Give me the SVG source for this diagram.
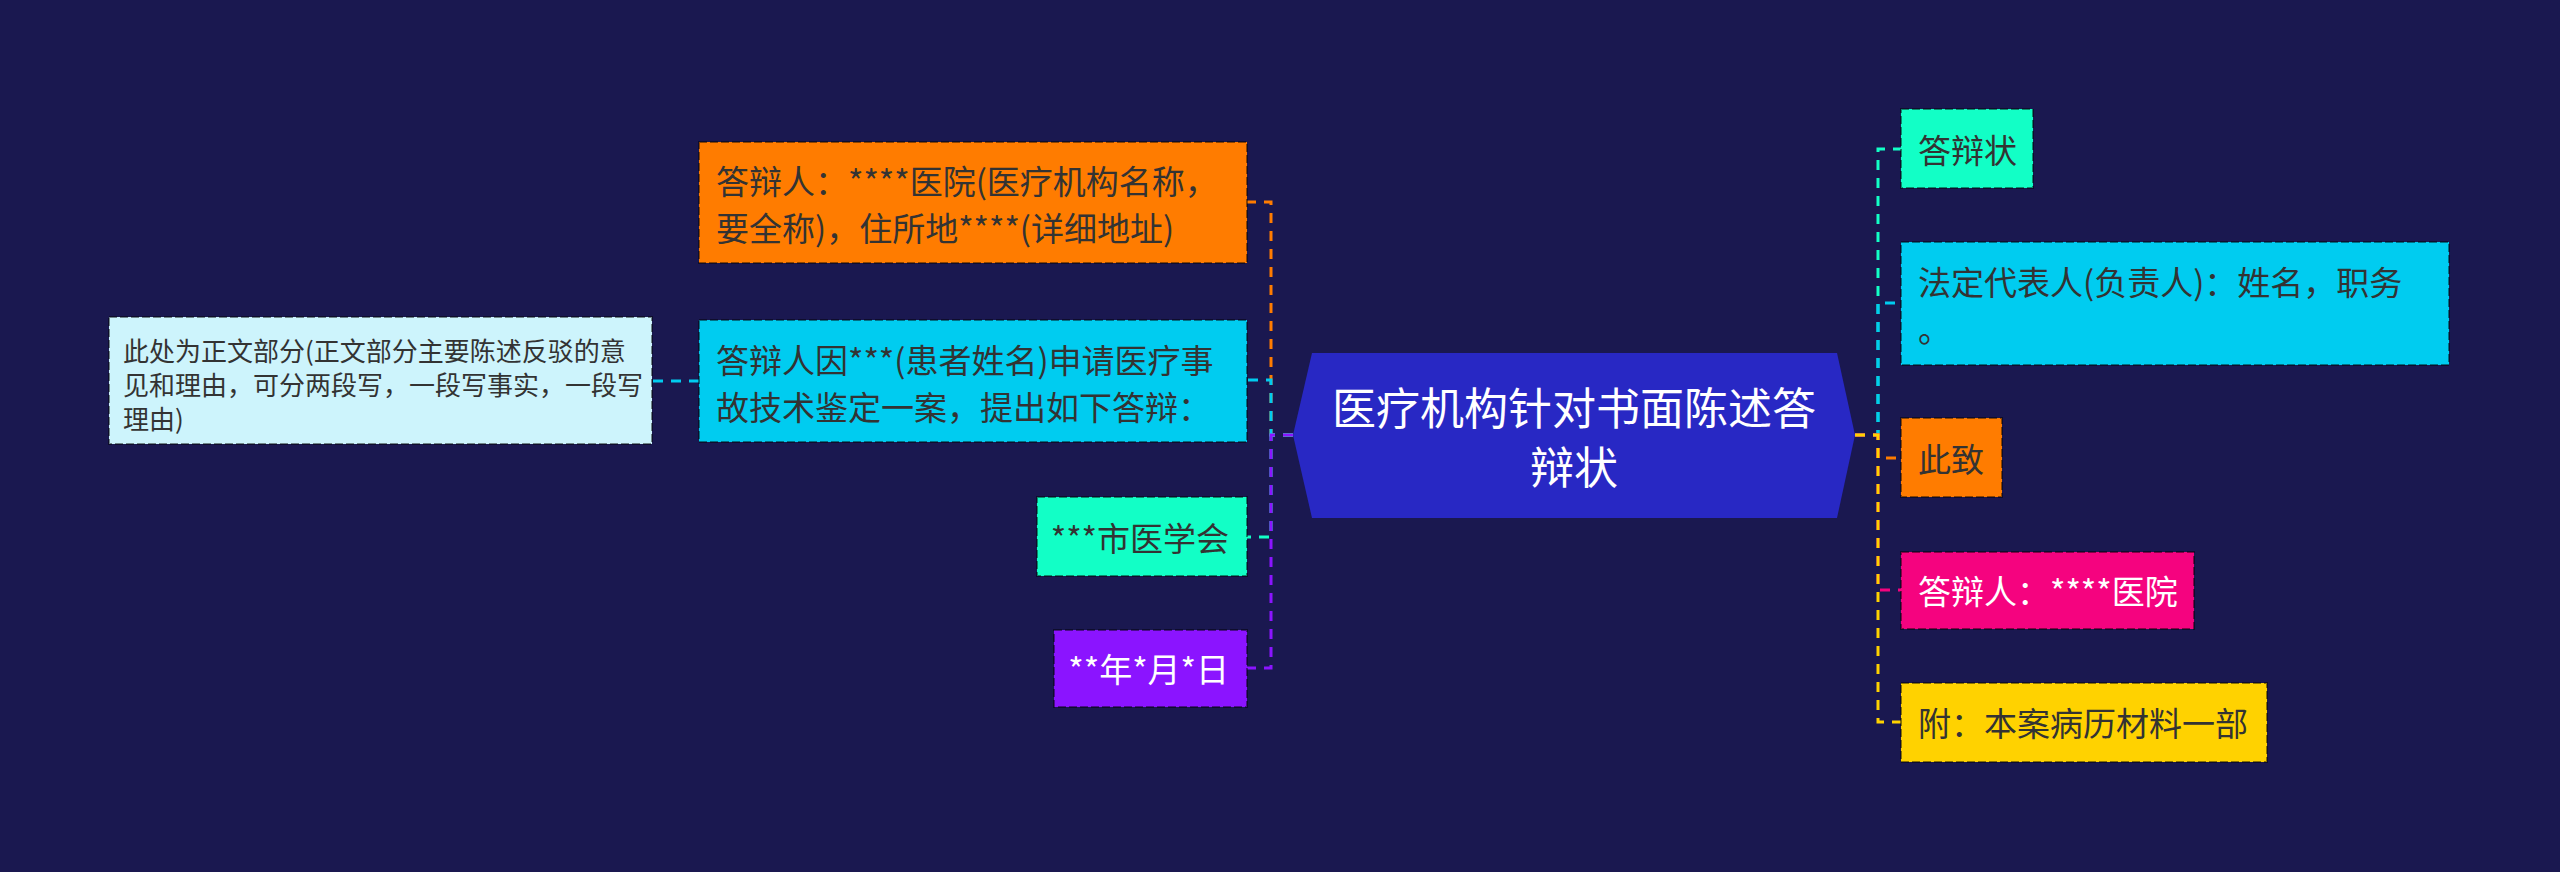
<svg xmlns="http://www.w3.org/2000/svg" width="2560" height="872" viewBox="0 0 2560 872">
<style>
text { font-family: "Noto Sans CJK SC", "Noto Sans", sans-serif; dominant-baseline: central; }
.box { stroke: #000; stroke-opacity: .45; stroke-width: 2; stroke-dasharray: 8 3; }
.t { font-size: 33px; fill: #333; }
.w { fill: #fff; }
.s { font-size: 26px; fill: #333; }
.c { fill: none; stroke-width: 3; stroke-dasharray: 10 8; }
</style>
<rect width="2560" height="872" fill="#1a1850"/>
<g id="connectors">
  <path class="c" stroke="#ff7c00" d="M1293,435 H1271 V202 H1247"/>
  <path class="c" stroke="#00ccf0" d="M1293,435 H1271 V380 H1247"/>
  <path class="c" stroke="#12ffc6" d="M1293,435 H1271 V537 H1247"/>
  <path class="c" stroke="#8b14ff" d="M1293,435 H1271 V668 H1247"/>
  <path class="c" stroke="#00ccf0" d="M699,381 H652"/>
  <path class="c" stroke="#12ffc6" d="M1855,435 H1878 V149 H1901"/>
  <path class="c" stroke="#00ccf0" d="M1855,435 H1878 V303 H1901"/>
  <path class="c" stroke="#ff7c00" d="M1855,435 H1878 V458 H1901"/>
  <path class="c" stroke="#f5037f" d="M1855,435 H1878 V590 H1901"/>
  <path class="c" stroke="#ffd200" d="M1855,435 H1878 V722 H1901"/>
</g>
<g id="center">
  <polygon points="1293,435 1312,353 1837,353 1855,435 1837,518 1312,518" fill="#2828c4"/>
  <text x="1574" y="406" text-anchor="middle" font-size="44" fill="#fff">医疗机构针对书面陈述答</text>
  <text x="1574" y="465" text-anchor="middle" font-size="44" fill="#fff">辩状</text>
</g>
<g id="n-respondent">
  <rect class="box" x="699" y="142" width="548" height="121" fill="#ff7c00"/>
  <text class="t" x="716" y="180">答辩人：****医院(医疗机构名称，</text>
  <text class="t" x="716" y="227">要全称)，住所地****(详细地址)</text>
</g>
<g id="n-case">
  <rect class="box" x="699" y="320" width="548" height="122" fill="#00ccf0"/>
  <text class="t" x="716" y="359">答辩人因***(患者姓名)申请医疗事</text>
  <text class="t" x="716" y="406">故技术鉴定一案，提出如下答辩：</text>
</g>
<g id="n-body">
  <rect class="box" x="109" y="317" width="543" height="127" fill="#cdf4fc"/>
  <text class="s" x="123" y="349">此处为正文部分(正文部分主要陈述反驳的意</text>
  <text class="s" x="123" y="383">见和理由，可分两段写，一段写事实，一段写</text>
  <text class="s" x="123" y="417">理由)</text>
</g>
<g id="n-society">
  <rect class="box" x="1037" y="497" width="210" height="79" fill="#12ffc6"/>
  <text class="t" x="1229" y="537" text-anchor="end">***市医学会</text>
</g>
<g id="n-date">
  <rect class="box" x="1054" y="630" width="193" height="77" fill="#8b14ff"/>
  <text class="t w" x="1229" y="668" text-anchor="end">**年*月*日</text>
</g>
<g id="n-title">
  <rect class="box" x="1901" y="109" width="132" height="79" fill="#12ffc6"/>
  <text class="t" x="1918" y="149">答辩状</text>
</g>
<g id="n-legal">
  <rect class="box" x="1901" y="242" width="548" height="123" fill="#00ccf0"/>
  <text class="t" x="1918" y="281">法定代表人(负责人)：姓名，职务</text>
  <text class="t" x="1918" y="328">。</text>
</g>
<g id="n-regards">
  <rect class="box" x="1901" y="418" width="101" height="79" fill="#ff7c00"/>
  <text class="t" x="1918" y="458">此致</text>
</g>
<g id="n-signer">
  <rect class="box" x="1901" y="552" width="293" height="77" fill="#f5037f"/>
  <text class="t w" x="1918" y="590">答辩人：****医院</text>
</g>
<g id="n-attach">
  <rect class="box" x="1901" y="683" width="366" height="79" fill="#ffd200"/>
  <text class="t" x="1918" y="722">附：本案病历材料一部</text>
</g>
</svg>
